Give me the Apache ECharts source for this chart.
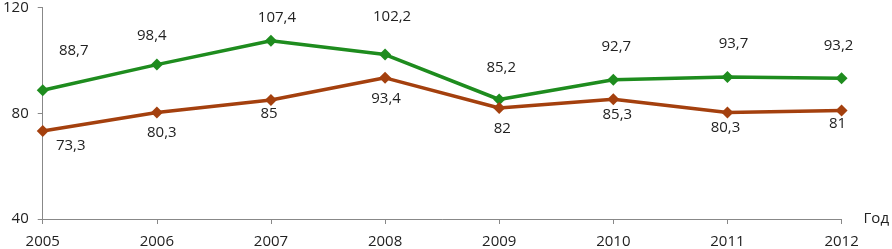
<!DOCTYPE html>
<html><head><meta charset="utf-8">
<script src="https://cdn.jsdelivr.net/npm/echarts@6/dist/echarts.min.js"></script>
<style>html,body{margin:0;padding:0;background:#fff}#c{width:892px;height:249px}</style>
</head><body><div id="c"></div>
<script>
var years = ['2005','2006','2007','2008','2009','2010','2011','2012'];
var greenValues = [88.7, 98.4, 107.4, 102.2, 85.2, 92.7, 93.7, 93.2];
var brownValues = [73.3, 80.3, 85, 93.4, 82, 85.3, 80.3, 81];
var yTicks = [40, 80, 120];
var xAxisName = 'Год';

// label offsets (layout only)
var greenLabelOffsets = [[31,-40],[-5,-29],[6,-23],[7,-38],[2,-32],[3,-33],[6,-33],[-3,-33]];
var brownLabelOffsets = [[28,15],[5,20],[-2,14],[1,21],[3,21],[4,15],[-2,15],[-4,13]];

var font = '"Open Sans", "Liberation Sans", sans-serif';
function fmt(v){ return String(v).replace('.', ','); }
function mk(vals, offs){
  return vals.map(function(v,i){
    return {value:v, label:{show:true, position:'inside', offset:offs[i], formatter:function(p){return fmt(p.value);}, color:'#222', fontSize:15, fontFamily:font}};
  });
}
var chart = echarts.init(document.getElementById('c'));
chart.setOption({
  animation:false,
  grid:{left:42, right:49, top:7, bottom:30},
  xAxis:{type:'category', data:years, boundaryGap:false,
    name:xAxisName, nameLocation:'end', nameGap:22,
    nameTextStyle:{color:'#222', fontSize:15, fontFamily:font, verticalAlign:'middle'},
    axisLine:{lineStyle:{color:'#888', width:1}},
    axisTick:{show:true, alignWithLabel:true, length:5, lineStyle:{color:'#888'}},
    axisLabel:{color:'#222', fontSize:15, fontFamily:font, margin:15}},
  yAxis:{type:'value', min:40, max:120, interval:40,
    axisLine:{show:true, lineStyle:{color:'#888', width:1}},
    axisTick:{show:true, length:5, lineStyle:{color:'#888'}},
    splitLine:{show:false},
    axisLabel:{color:'#222', fontSize:15, fontFamily:font, margin:14,
      formatter:function(v){ return yTicks.indexOf(v)>=0 ? String(v) : ''; }}},
  series:[
    {type:'line', data:mk(greenValues, greenLabelOffsets), symbol:'diamond', symbolSize:12,
     lineStyle:{color:'#1E8C1E', width:3.5}, itemStyle:{color:'#1E8C1E'}},
    {type:'line', data:mk(brownValues, brownLabelOffsets), symbol:'diamond', symbolSize:12,
     lineStyle:{color:'#A4400E', width:3.5}, itemStyle:{color:'#A4400E'}}
  ]
});
</script></body></html>
